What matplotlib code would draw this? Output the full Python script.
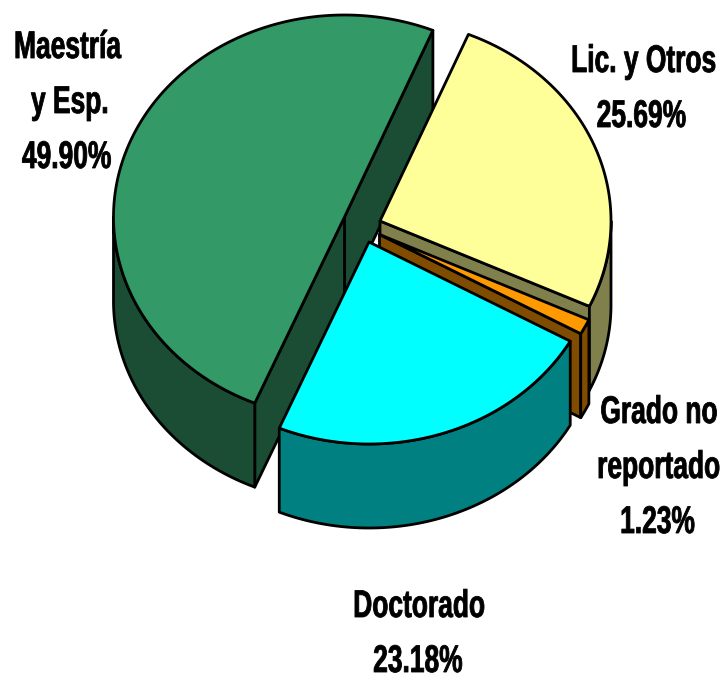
import numpy as np
import matplotlib
matplotlib.use("Agg")
import matplotlib.pyplot as plt
from matplotlib.font_manager import FontProperties
from matplotlib.patches import Polygon
from matplotlib.text import Text, TextPath
from matplotlib.transforms import Affine2D, Bbox

# ---- data ----
categories = ["Maestría\ny Esp.", "Doctorado", "Grado no\nreportado", "Lic. y Otros"]
shares = [49.90, 23.18, 1.23, 25.69]

# ---- styling / geometry (pixels) ----
top_colors = ["#339966", "#00FFFF", "#FF9900", "#FFFF99"]
side_colors = ["#1A4D33", "#008080", "#804D00", "#80804D"]
apexes = [(344.5, 217), (369, 242), (379.5, 234.5), (380, 221)]
RX, RY, DEPTH = 231, 202, 84
START = 67.5
LW = 2.0
draw_order = [0, 3, 2, 1]

# centre x of each text line, baseline y
label_lines = [
    [(68.5, 58), (69, 113), (66.5, 168)],
    [(419.5, 617), (418, 672)],
    [(659, 423), (659, 478), (658, 533)],
    [(644, 72), (641.5, 127)],
]

FONT_PX = 38.5
CONDENSE = 0.685


class CondensedText(Text):
    """A text artist drawn with its glyphs narrowed, as the reference's font is."""

    def _layout_box(self):
        prop = FontProperties(family="Liberation Sans", weight="bold")
        path = TextPath((0, 0), self.get_text(), size=FONT_PX, prop=prop)
        ext = path.get_extents()
        x, y = self.get_transform().transform(self.get_position())
        tr = (Affine2D()
              .translate(-(ext.x0 + ext.x1) / 2, 0)
              .scale(CONDENSE, 1)
              .translate(x, y))
        return path, tr

    def get_window_extent(self, renderer=None, dpi=None):
        path, tr = self._layout_box()
        return Bbox(path.get_extents(tr).get_points())

    def draw(self, renderer):
        path, tr = self._layout_box()
        gc = renderer.new_gc()
        gc.set_linewidth(0.6)
        gc.set_foreground("black")
        gc.set_antialiased(True)
        renderer.draw_path(gc, path, tr, rgbFace=(0, 0, 0, 1))
        gc.restore()


fig = plt.figure(figsize=(7.26, 6.73), dpi=100)
ax = fig.add_axes([0, 0, 1, 1])
ax.set_xlim(0, 726)
ax.set_ylim(673, 0)
ax.axis("off")

spans = np.array(shares) / sum(shares) * 360
starts = START + np.concatenate([[0], np.cumsum(spans)[:-1]])


def rim(apex, a0, a1, dy=0.0):
    t = np.radians(np.linspace(a0, a1, max(3, int(abs(a1 - a0) * 2))))
    return np.column_stack([apex[0] + RX * np.cos(t),
                            apex[1] - RY * np.sin(t) + dy])


def poly(pts, color, z):
    ax.add_patch(Polygon(pts, closed=True, facecolor=color, edgecolor="black",
                         linewidth=LW, joinstyle="round", zorder=z))


z = 1
for i in draw_order:
    apex = apexes[i]
    a0, a1 = starts[i], starts[i] + spans[i]
    side, top = side_colors[i], top_colors[i]

    # cut faces that turn toward the viewer
    for ang, sign in ((a0, 1), (a1, -1)):
        r = np.radians(ang)
        if sign * -np.cos(r) < 0:      # normal points down the picture
            edge = np.array([apex[0] + RX * np.cos(r), apex[1] - RY * np.sin(r)])
            poly([apex, edge, edge + [0, DEPTH], (apex[0], apex[1] + DEPTH)], side, z)
            z += 1

    # outer wall: only the lower half of the rim is visible
    for lo, hi in ((180, 360), (540, 720)):
        b0, b1 = max(a0, lo), min(a1, hi)
        if b1 > b0:
            poly(np.vstack([rim(apex, b0, b1), rim(apex, b1, b0, DEPTH)]), side, z)
            z += 1

    # top face
    poly(np.vstack([[apex], rim(apex, a0, a1)]), top, z)
    z += 1

# ---- labels ----
for name, share, lines in zip(categories, shares, label_lines):
    texts = name.split("\n") + [f"{share:.2f}%"]
    for txt, (x, y) in zip(texts, lines):
        ax.add_artist(CondensedText(x, y, txt, color="black", fontsize=27.7,
                                    fontweight="bold", family="Liberation Sans",
                                    transform=ax.transData, zorder=50))

fig.savefig("out.png", dpi=100, facecolor="white")
